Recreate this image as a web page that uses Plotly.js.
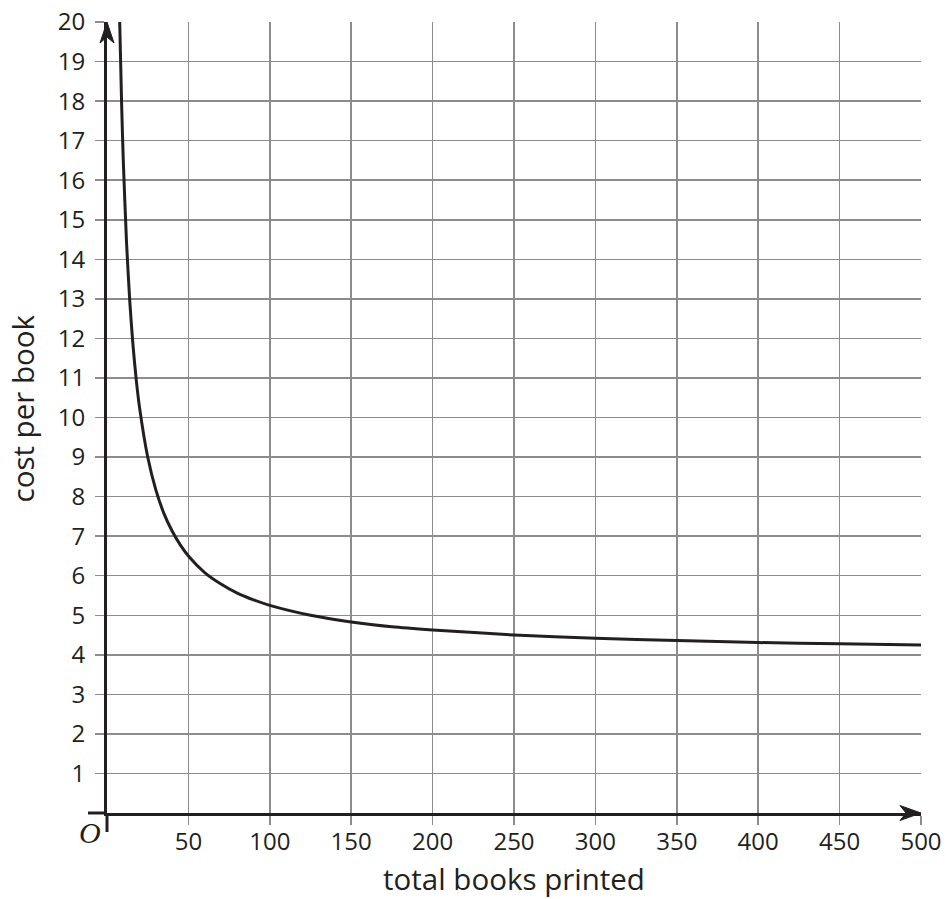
<!DOCTYPE html>
<html>
<head>
<meta charset="utf-8">
<script src="https://cdn.plot.ly/plotly-3.0.1.min.js"></script>
<style>html,body{margin:0;padding:0;background:#fff;}#chart{width:946px;height:899px;}</style>
</head>
<body>
<div id="chart"></div>
<script>
// Values
const booksPrinted = [7.8, 9, 10, 12, 14, 16, 18, 20, 25, 30, 35, 40, 45, 50, 60, 70, 80, 90, 100, 125, 150, 175, 200, 250, 300, 350, 400, 450, 500];
const costPerBook  = [20, 17.9, 16.5, 14.42, 12.93, 11.81, 10.94, 10.25, 9.0, 8.17, 7.57, 7.13, 6.78, 6.5, 6.08, 5.79, 5.56, 5.39, 5.25, 5.0, 4.83, 4.71, 4.63, 4.5, 4.42, 4.36, 4.31, 4.28, 4.25];
const xTickVals = [50, 100, 150, 200, 250, 300, 350, 400, 450, 500];
const xTickText = ['50', '100', '150', '200', '250', '300', '350', '400', '450', '500'];
const yTickVals = [1,2,3,4,5,6,7,8,9,10,11,12,13,14,15,16,17,18,19,20];
const yTickText = yTickVals.map(String);
const xTitle = 'total books printed';
const yTitle = 'cost per book';

const ink = '#231f20';
const grid = '#8c8c8c';
const font = {family: 'Open Sans, sans-serif', size: 24, color: ink};
const titleFont = {family: 'Open Sans, sans-serif', size: 29.5, color: ink};

const data = [{
  x: booksPrinted, y: costPerBook, type: 'scatter', mode: 'lines',
  line: {color: ink, width: 3, shape: 'spline', smoothing: 0.6},
  hoverinfo: 'skip', showlegend: false, cliponaxis: false
}];

const layout = {
  width: 946, height: 899,
  margin: {l: 107, r: 25, t: 22, b: 86},
  paper_bgcolor: '#fff', plot_bgcolor: '#fff',
  font: font,
  showlegend: false,
  xaxis: {
    range: [0, 500], tickvals: xTickVals, ticktext: xTickText,
    showgrid: true, gridcolor: grid, gridwidth: 1.5,
    ticks: 'outside', ticklen: 9, tickwidth: 1.5, tickcolor: grid,
    showline: true, linecolor: ink, linewidth: 3,
    zeroline: false, tickfont: font, ticklabelstandoff: -4,
    title: {text: xTitle, font: titleFont, standoff: 15},
    fixedrange: true
  },
  yaxis: {
    range: [0, 20], tickvals: yTickVals, ticktext: yTickText,
    showgrid: true, gridcolor: grid, gridwidth: 1.5,
    ticks: 'outside', ticklen: 9, tickwidth: 1.5, tickcolor: grid,
    showline: true, linecolor: ink, linewidth: 3,
    zeroline: false, tickfont: font, ticklabelstandoff: 5,
    fixedrange: true
  },
  shapes: [
    // axis stubs beyond origin
    {type: 'line', xref: 'paper', yref: 'paper', xsizemode: 'pixel', xanchor: 0, x0: -19, x1: 0, y0: 0, y1: 0, line: {color: ink, width: 3}},
    {type: 'line', xref: 'paper', yref: 'paper', ysizemode: 'pixel', yanchor: 0, y0: -19, y1: 0, x0: 0, x1: 0, line: {color: ink, width: 3}},
    // arrowheads
    {type: 'path', xref: 'paper', yref: 'paper', xsizemode: 'pixel', ysizemode: 'pixel', xanchor: 1, yanchor: 0,
     path: 'M0,0 L-21,7.5 L-15,0 L-21,-7.5 Z', fillcolor: ink, line: {color: ink, width: 1}},
    {type: 'path', xref: 'paper', yref: 'paper', xsizemode: 'pixel', ysizemode: 'pixel', xanchor: 0, yanchor: 1,
     path: 'M0,0 L7,-21 L0,-15 L-7,-21 Z', fillcolor: ink, line: {color: ink, width: 1}}
  ],
  annotations: [
    {xref: 'paper', yref: 'paper', x: 0, y: 0, xshift: -17, yshift: -19, xanchor: 'center', yanchor: 'middle',
     text: '<i>O</i>', showarrow: false,
     font: {family: 'Liberation Serif, serif', size: 30, color: ink}},
    {xref: 'paper', yref: 'paper', x: 0, y: 0.5, xshift: -85, yshift: 9, xanchor: 'center', yanchor: 'middle',
     textangle: -90, text: yTitle, showarrow: false, font: titleFont}
  ]
};

Plotly.newPlot('chart', data, layout, {staticPlot: true, displayModeBar: false});
</script>
</body>
</html>
